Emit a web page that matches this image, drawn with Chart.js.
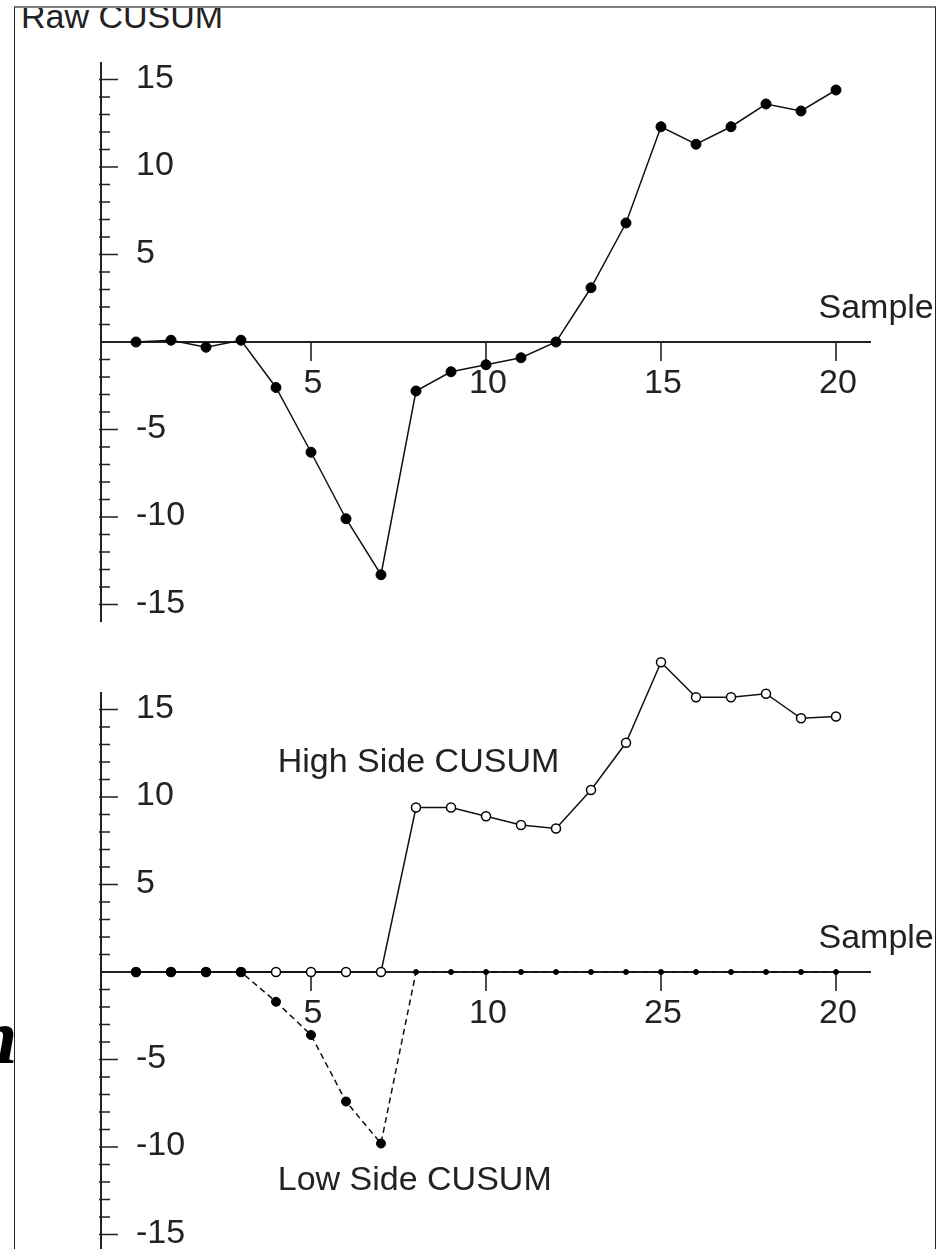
<!DOCTYPE html>
<html>
<head>
<meta charset="utf-8">
<title>Raw CUSUM</title>
<script src="https://cdn.jsdelivr.net/npm/chart.js@4.4.1/dist/chart.umd.min.js"></script>
<style>
    html, body { margin: 0; padding: 0; background: #fff; overflow: hidden; }
    #page { position: relative; width: 950px; height: 1249px; overflow: hidden; }
    .frame {
        position: absolute; left: 14px; top: 6px; width: 922px; height: 1300px;
        box-sizing: border-box;
        border-top: 2px solid #7f7f7f;
        border-left: 1px solid #222;
        border-right: 1px solid #222;
    }
    .title-clip { position: absolute; left: 15px; top: 8px; width: 400px; height: 30px; overflow: hidden; }
    .title-clip div {
        position: absolute; left: 6px; top: -9px; white-space: nowrap;
        font: 34px/34px "Liberation Sans", Arial, sans-serif; color: #222;
    }
    .stray {
        position: absolute; left: -26px; top: 998px;
        font: italic bold 78px/78px "Liberation Serif", "DejaVu Serif", serif; color: #000;
    }
    canvas { position: absolute; left: 0; }
</style>
</head>
<body>
<div id="page">
    <div class="frame"></div>
    <div class="title-clip"><div>Raw CUSUM</div></div>
    <div class="stray">n</div>
    <canvas id="rawChart" width="935" height="630" style="top:0"></canvas>
    <canvas id="sideChart" width="935" height="630" style="top:630px"></canvas>
</div>
<script>
'use strict';

/* ── Data ───────────────────────────────────────────────────────────────── */

const samples    = [0, 1, 2, 3, 4, 5, 6, 7, 8, 9, 10, 11, 12, 13, 14, 15, 16, 17, 18, 19, 20];
const rawCusum   = [0, 0.1, -0.3, 0.1, -2.6, -6.3, -10.1, -13.3, -2.8, -1.7, -1.3, -0.9, 0, 3.1, 6.8, 12.3, 11.3, 12.3, 13.6, 13.2, 14.4];
const highCusum  = [0, 0, 0, 0, 0, 0, 0, 0, 9.4, 9.4, 8.9, 8.4, 8.2, 10.4, 13.1, 17.7, 15.7, 15.7, 15.9, 14.5, 14.6];
const lowCusum   = [0, 0, 0, 0, -1.7, -3.6, -7.4, -9.8, 0, 0, 0, 0, 0, 0, 0, 0, 0, 0, 0, 0, 0];

const xTickValues     = [5, 10, 15, 20];
const xTickLabelsRaw  = ['5', '10', '15', '20'];
const xTickLabelsSide = ['5', '10', '25', '20'];
const yTickValues     = [-15, -10, -5, 5, 10, 15];
const yTickLabels     = ['-15', '-10', '-5', '5', '10', '15'];
const AXIS_SPAN = 16;   // drawn extent of the vertical axis (± units)

const FONT = '34px "Liberation Sans", Arial, sans-serif';
const INK = '#222';

/* ── Axis plugin: cross-shaped axes with minor ticks ─────────────────────── */

const crossAxes = {
    id: 'crossAxes',
    beforeDatasetsDraw(chart, args, opts) {
        const { ctx, scales: { x, y } } = chart;
        const x0 = x.getPixelForValue(x.min);
        const y0 = y.getPixelForValue(0);
        ctx.save();
        ctx.strokeStyle = INK;
        ctx.lineWidth = 2;

        // vertical axis
        ctx.beginPath();
        ctx.moveTo(x0, y.getPixelForValue(AXIS_SPAN));
        ctx.lineTo(x0, y.getPixelForValue(-AXIS_SPAN));
        // horizontal axis
        ctx.moveTo(x0, y0);
        ctx.lineTo(x.getPixelForValue(x.max), y0);
        ctx.stroke();

        // y ticks, every unit; majors every 5
        ctx.lineWidth = 1.6;
        ctx.beginPath();
        for (let v = -15; v <= 15; v++) {
            if (v === 0) continue;
            const py = y.getPixelForValue(v);
            ctx.moveTo(x0 - 2, py);
            ctx.lineTo(x0 + (v % 5 === 0 ? 17 : 9), py);
        }
        // x ticks
        xTickValues.forEach(v => {
            const px = x.getPixelForValue(v);
            ctx.moveTo(px, y0);
            ctx.lineTo(px, y0 + 19);
        });
        ctx.stroke();

        // labels
        ctx.fillStyle = INK;
        ctx.font = FONT;
        ctx.textBaseline = 'middle';
        ctx.textAlign = 'left';
        yTickValues.forEach((v, i) => ctx.fillText(yTickLabels[i], x0 + 35, y.getPixelForValue(v) - 1));
        ctx.textAlign = 'center';
        xTickValues.forEach((v, i) => ctx.fillText(opts.xLabels[i], x.getPixelForValue(v) + 2, y0 + 42));

        // axis title and notes
        ctx.textAlign = 'left';
        ctx.fillText('Sample', x.getPixelForValue(19.5), y0 - 33);
        (opts.notes || []).forEach(n => ctx.fillText(n.text, x.getPixelForValue(n.x), y.getPixelForValue(n.y)));
        ctx.restore();
    },
};

/* ── Chart builder ───────────────────────────────────────────────────────── */

// y runs to 19 so the tallest high-side point stays inside the chart area
function baseOptions(xLabels, notes) {
    return {
        responsive: false,
        animation: false,
        devicePixelRatio: 1,
        layout: { padding: { left: 101, right: 64, top: 9.5, bottom: 8 } },
        scales: {
            x: { type: 'linear', min: -1, max: 21, display: false },
            y: { type: 'linear', min: -16, max: 19, display: false },
        },
        plugins: {
            legend: { display: false },
            tooltip: { enabled: false },
            crossAxes: { xLabels, notes },
        },
    };
}

const toPoints = values => samples.map((s, i) => ({ x: s, y: values[i] }));

function initRawChart() {
    new Chart(document.getElementById('rawChart'), {
        type: 'line',
        data: {
            datasets: [{
                data: toPoints(rawCusum),
                borderColor: '#111',
                borderWidth: 1.5,
                pointRadius: 5,
                pointBackgroundColor: '#000',
                pointBorderColor: '#000',
                pointBorderWidth: 1,
                tension: 0,
                clip: false,
            }],
        },
        options: baseOptions(xTickLabelsRaw),
        plugins: [crossAxes],
    });
}

function initSideChart() {
    new Chart(document.getElementById('sideChart'), {
        type: 'line',
        data: {
            datasets: [
                {
                    // low side: dashed, filled dots (drawn on top)
                    data: toPoints(lowCusum),
                    order: 0,
                    borderColor: '#111',
                    borderWidth: 1.5,
                    borderDash: [6, 4],
                    pointRadius: ctx => (ctx.dataIndex > 7 ? 2.5 : 4.5),
                    pointBackgroundColor: '#000',
                    pointBorderColor: '#000',
                    pointBorderWidth: 1,
                    tension: 0,
                    clip: false,
                },
                {
                    // high side: solid, open circles
                    data: toPoints(highCusum),
                    order: 1,
                    borderColor: '#111',
                    borderWidth: 1.5,
                    pointRadius: 4.5,
                    pointBackgroundColor: '#fff',
                    pointBorderColor: '#000',
                    pointBorderWidth: 1.5,
                    tension: 0,
                    clip: false,
                },
            ],
        },
        options: baseOptions(xTickLabelsSide, [
            { text: 'High Side CUSUM', x: 4.05, y: 11.95 },
            { text: 'Low Side CUSUM', x: 4.05, y: -11.9 },
        ]),
        plugins: [crossAxes],
    });
}

initRawChart();
initSideChart();
</script>
</body>
</html>
